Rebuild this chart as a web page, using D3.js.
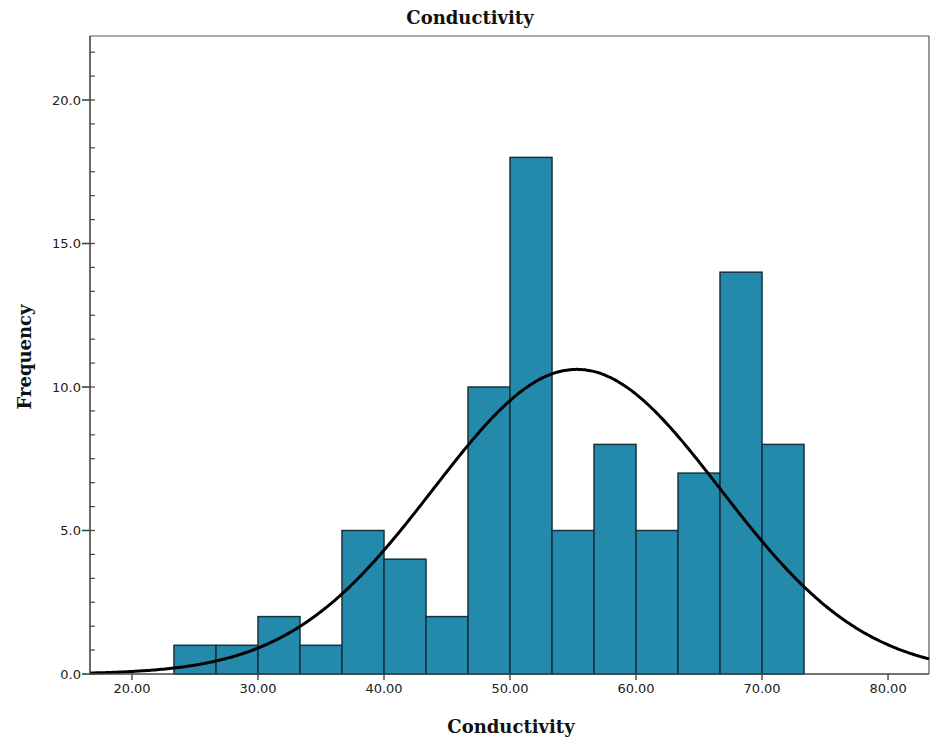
<!DOCTYPE html>
<html><head><meta charset="utf-8">
<script src="https://cdn.jsdelivr.net/npm/d3@7"></script>
<style>body{margin:0;background:#fff}svg{display:block}</style>
</head><body>
<svg id="c" width="930" height="746"></svg>
<script>
// Histogram bins (lower edges) and counts
const binStart = 23.333;
const binWidth = 3.3333;
const counts = [1, 1, 2, 1, 5, 4, 2, 10, 18, 5, 8, 5, 7, 14, 8];
// Normal curve parameters
const fitMean = 55.3;
const fitSD = 11.4;
const fitN = 91;
const xTicks = [20, 30, 40, 50, 60, 70, 80];
const yTicks = [0, 5, 10, 15, 20];

const svg = d3.select("#c");
const L = 90, R = 929, T = 36, B = 674;
const x = d3.scaleLinear().domain([16.667, 83.25]).range([L, R]);
const y = d3.scaleLinear().domain([0, 22.23]).range([B, T]);

// frame
svg.append("line").attr("x1", L).attr("x2", R).attr("y1", T).attr("y2", T).attr("stroke", "#555").attr("stroke-width", 1.2);
svg.append("line").attr("x1", R).attr("x2", R).attr("y1", T).attr("y2", B).attr("stroke", "#555").attr("stroke-width", 1.2);

// bars
const bins = counts.map((c, i) => ({x0: binStart + i * binWidth, x1: binStart + (i + 1) * binWidth, c}));
svg.append("g").selectAll("rect").data(bins).join("rect")
  .attr("x", d => x(d.x0)).attr("width", d => x(d.x1) - x(d.x0))
  .attr("y", d => y(d.c)).attr("height", d => y(0) - y(d.c))
  .attr("fill", "#248aac").attr("stroke", "#17313d").attr("stroke-width", 1.5);

// normal curve
const pdf = v => fitN * binWidth / (fitSD * Math.sqrt(2 * Math.PI)) * Math.exp(-((v - fitMean) ** 2) / (2 * fitSD * fitSD));
const xs = d3.range(0, 401).map(i => 16.667 + i * (83.25 - 16.667) / 400);
svg.append("path").datum(xs)
  .attr("d", d3.line().x(v => x(v)).y(v => y(pdf(v))).curve(d3.curveBasis))
  .attr("fill", "none").attr("stroke", "#000").attr("stroke-width", 3);

// y axis
const yAxis = svg.append("g").attr("transform", `translate(${L},0)`);
yAxis.append("line").attr("x1", 0).attr("x2", 0).attr("y1", T).attr("y2", B).attr("stroke", "#444").attr("stroke-width", 1.6);
const minor = d3.range(0, 22.2, 5 / 6);
yAxis.selectAll(".mn").data(minor).join("line").attr("class", "mn")
  .attr("x1", 0).attr("x2", 5).attr("y1", d => y(d)).attr("y2", d => y(d)).attr("stroke", "#444").attr("stroke-width", 1.2);
yAxis.selectAll(".mj").data(yTicks).join("line").attr("class", "mj")
  .attr("x1", -8).attr("x2", 0).attr("y1", d => y(d)).attr("y2", d => y(d)).attr("stroke", "#444").attr("stroke-width", 1.6);
yAxis.selectAll("text").data(yTicks).join("text")
  .attr("x", -9).attr("y", d => y(d)).attr("dy", "0.35em").attr("text-anchor", "end")
  .attr("font-family", "DejaVu Sans, sans-serif").attr("font-size", 13).attr("fill", "#222")
  .text(d => d3.format(".1f")(d));

// x axis
const xAxis = svg.append("g").attr("transform", `translate(0,${B})`);
xAxis.append("line").attr("x1", L).attr("x2", R).attr("y1", 0).attr("y2", 0).attr("stroke", "#444").attr("stroke-width", 1.6);
xAxis.selectAll(".tk").data(xTicks).join("line").attr("class", "tk")
  .attr("x1", d => x(d)).attr("x2", d => x(d)).attr("y1", 0).attr("y2", 6).attr("stroke", "#444").attr("stroke-width", 1.4);
xAxis.selectAll("text").data(xTicks).join("text")
  .attr("x", d => x(d)).attr("y", 19).attr("text-anchor", "middle")
  .attr("font-family", "DejaVu Sans, sans-serif").attr("font-size", 13).attr("fill", "#222")
  .text(d => d3.format(".2f")(d));

// titles
const tf = "DejaVu Serif, serif";
svg.append("text").attr("x", 470).attr("y", 24).attr("text-anchor", "middle")
  .attr("font-family", tf).attr("font-weight", "bold").attr("font-size", 18).attr("fill", "#111")
  .text("Conductivity");
svg.append("text").attr("x", 511).attr("y", 733).attr("text-anchor", "middle")
  .attr("font-family", tf).attr("font-weight", "bold").attr("font-size", 18).attr("fill", "#111")
  .text("Conductivity");
svg.append("text").attr("transform", `translate(31,357) rotate(-90)`).attr("text-anchor", "middle")
  .attr("font-family", tf).attr("font-weight", "bold").attr("font-size", 18).attr("fill", "#111")
  .text("Frequency");
</script>
</body></html>
